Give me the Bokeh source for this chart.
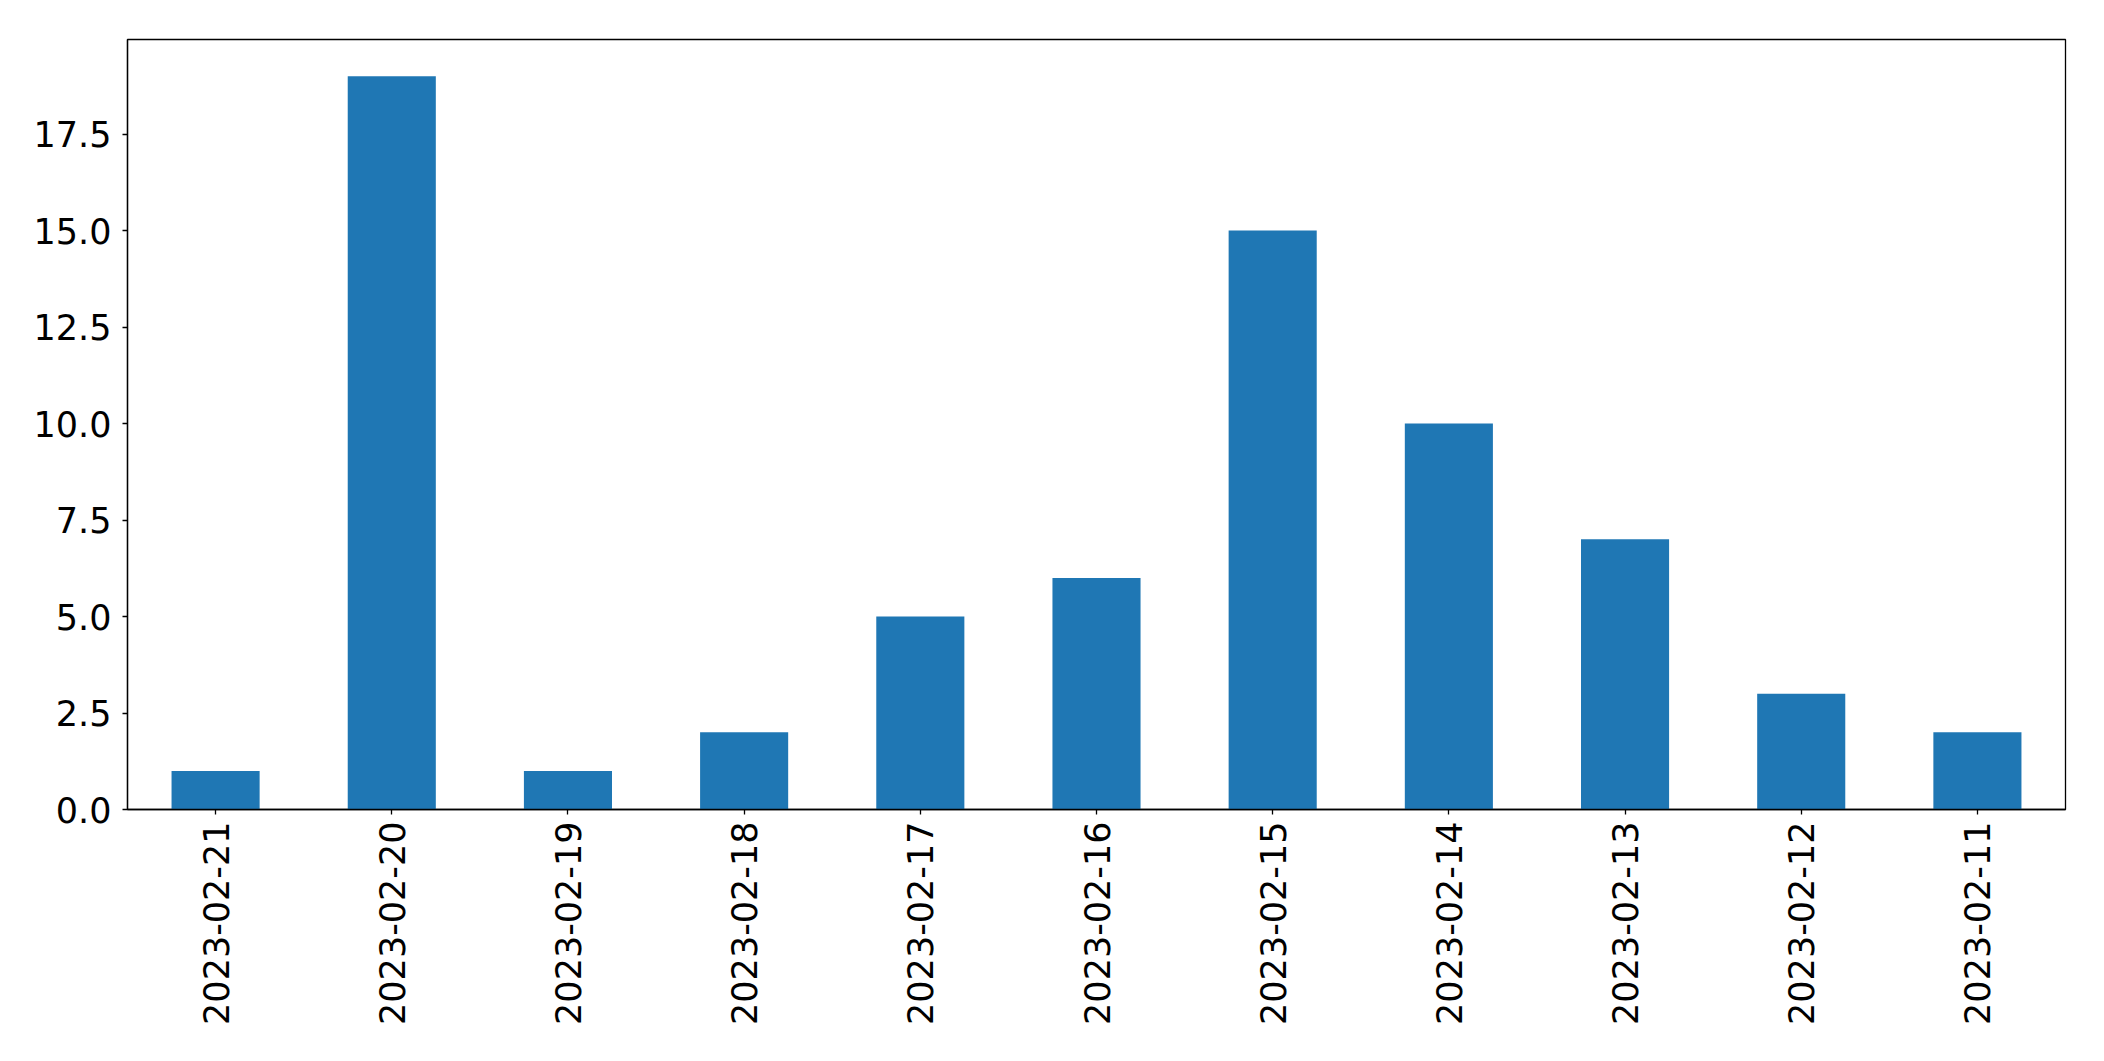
from bokeh.plotting import figure
from bokeh.models import FactorRange, Range1d, FixedTicker, NumeralTickFormatter
from bokeh.embed import file_html
from bokeh.resources import INLINE
import math

dates = ["2023-02-21", "2023-02-20", "2023-02-19", "2023-02-18", "2023-02-17",
         "2023-02-16", "2023-02-15", "2023-02-14", "2023-02-13", "2023-02-12",
         "2023-02-11"]
counts = [1, 19, 1, 2, 5, 6, 15, 10, 7, 3, 2]
y_ticks = [0, 2.5, 5, 7.5, 10, 12.5, 15, 17.5]

p = figure(x_range=FactorRange(*dates), y_range=Range1d(0, 19.95),
           width=2088, height=1045, output_backend="svg", toolbar_location=None,
           min_border_left=127, min_border_right=23, min_border_top=39,
           min_border_bottom=236)

p.vbar(x=dates, top=counts, width=0.5, color="#1f77b4", line_color=None)

p.xgrid.visible = False
p.ygrid.visible = False
p.outline_line_color = "black"
p.outline_line_width = 1.3
p.outline_line_alpha = 1.0

for ax in (p.xaxis[0], p.yaxis[0]):
    ax.axis_line_color = "black"
    ax.axis_line_width = 1.3
    ax.major_tick_line_color = "black"
    ax.major_tick_line_width = 1.3
    ax.major_tick_in = 0
    ax.major_tick_out = 5
    ax.minor_tick_line_color = None
    ax.major_label_text_font = "DejaVu Sans"
    ax.major_label_text_font_size = "35px"
    ax.major_label_text_color = "black"

p.xaxis.major_label_standoff = 7
p.yaxis.major_label_standoff = 11
p.xaxis.major_label_orientation = math.pi / 2
p.yaxis.ticker = FixedTicker(ticks=y_ticks)
p.yaxis.formatter = NumeralTickFormatter(format="0.0")

open("out.html", "w").write(file_html(p, INLINE))
